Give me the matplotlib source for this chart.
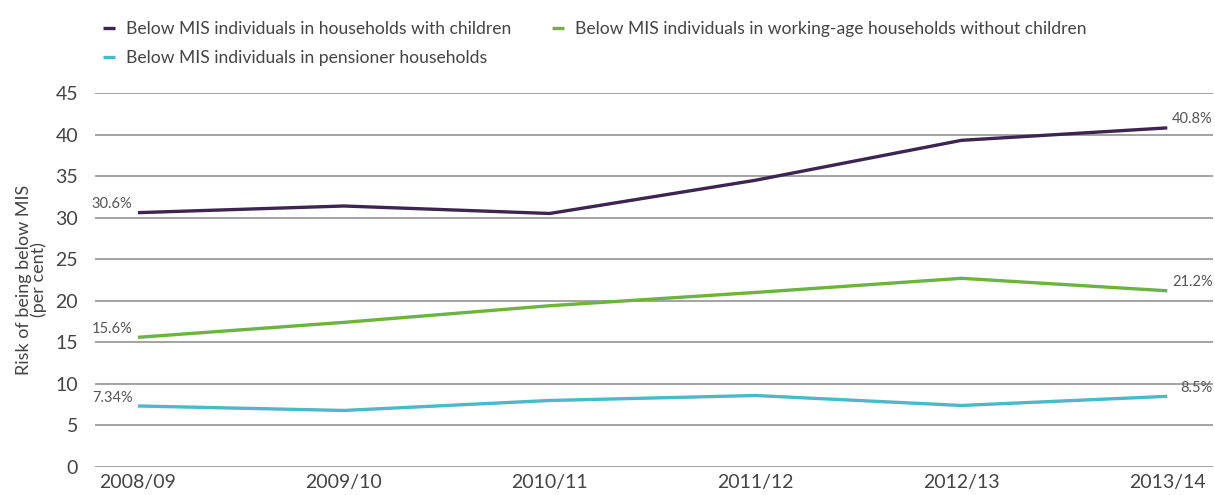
import matplotlib
matplotlib.use("Agg")
import matplotlib.pyplot as plt

years = ["2008/09", "2009/10", "2010/11", "2011/12", "2012/13", "2013/14"]
with_children = [30.6, 31.4, 30.5, 34.5, 39.3, 40.8]
working_age = [15.6, 17.4, 19.4, 21.0, 22.7, 21.2]
pensioner = [7.34, 6.8, 8.0, 8.6, 7.4, 8.5]

start_labels = ["30.6%", "15.6%", "7.34%"]
end_labels = ["40.8%", "21.2%", "8.5%"]

names = [
    "Below MIS individuals in households with children",
    "Below MIS individuals in working-age households without children",
    "Below MIS individuals in pensioner households",
]
colors = ["#3d2552", "#6cb43f", "#4db8c9"]
series = [with_children, working_age, pensioner]

plt.rcParams["font.family"] = ["Lato", "DejaVu Sans"]
text_col = "#444444"

fig = plt.figure(figsize=(12.15, 4.95), dpi=100)
ax = fig.add_axes([0.078, 0.0566, 0.920, 0.7556])

x = list(range(len(years)))
handles = []
for vals, col, name, sl, el in zip(series, colors, names, start_labels, end_labels):
    (h,) = ax.plot(x, vals, color=col, lw=2.4, label=name, solid_capstyle="butt", zorder=3)
    handles.append(h)
    ax.annotate(sl, (x[0], vals[0]), xytext=(-4, 1), textcoords="offset points",
                ha="right", va="bottom", fontsize=10.5, color="#555555")
    ax.annotate(el, (1.0, vals[-1]), xycoords=ax.get_yaxis_transform(),
                xytext=(0, 1), textcoords="offset points",
                ha="right", va="bottom", fontsize=10.5, color="#555555")

ax.set_ylim(0, 45)
ax.set_xlim(-0.21, 5.22)
ax.set_yticks(range(0, 46, 5))
ax.set_xticks(x)
ax.set_xticklabels(years)
ax.grid(axis="y", color="#8a8a8a", lw=1.1, zorder=1)
ax.set_axisbelow(True)
for s in ax.spines.values():
    s.set_visible(False)
ax.tick_params(axis="both", length=0, labelsize=14, colors=text_col)
ax.tick_params(axis="y", pad=12)
ax.tick_params(axis="x", pad=5)
ax.set_ylabel("Risk of being below MIS\n(per cent)", fontsize=13, color=text_col,
              linespacing=0.85, labelpad=6)

order = [0, 2, 1]
leg = fig.legend([handles[i] for i in order], [names[i] for i in order],
                 loc="upper left", bbox_to_anchor=(0.072, 0.989), ncol=2,
                 frameon=False, fontsize=12.6, handlelength=0.7, handletextpad=0.62,
                 columnspacing=2.3, labelspacing=0.75, labelcolor=text_col)

fig.savefig("out.png", dpi=100)
